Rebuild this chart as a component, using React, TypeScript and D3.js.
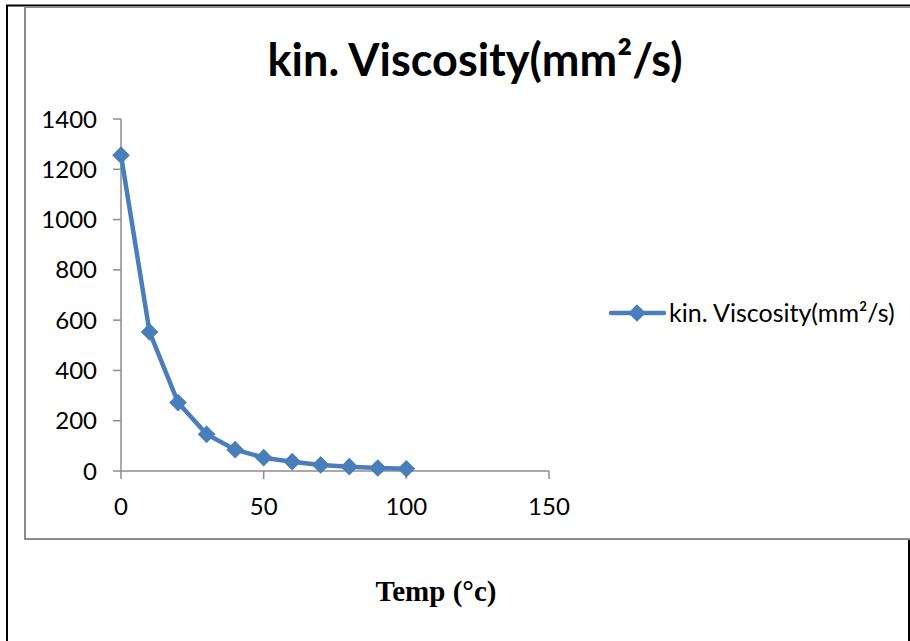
import { useEffect, useRef } from "react";
import * as d3 from "d3";

// chart data
const temps = [0, 10, 20, 30, 40, 50, 60, 70, 80, 90, 100];
const viscosity = [1256, 553, 272, 146, 85, 53, 37, 24, 17, 12, 9];
const xTicks = [0, 50, 100, 150];
const yTicks = [0, 200, 400, 600, 800, 1000, 1200, 1400];
const seriesName = "kin. Viscosity(mm²/s)";
const xTitle = "Temp (°c)";

const W = 910;
const H = 641;
const BLUE = "#4A7EBB";
const FONT = "Lato, 'Open Sans', sans-serif";

const App = () => {
  const svgRef = useRef<SVGSVGElement | null>(null);

  useEffect(() => {
    if (!svgRef.current) return;
    const svg = d3.select(svgRef.current);
    svg.selectAll("*").remove();

    // outer frame (black) and chart area (grey)
    svg
      .append("rect")
      .attr("x", 7)
      .attr("y", 5.5)
      .attr("width", 902)
      .attr("height", 650)
      .attr("fill", "#fff")
      .attr("stroke", "#000")
      .attr("stroke-width", 2);
    svg
      .append("rect")
      .attr("x", 25)
      .attr("y", 7)
      .attr("width", 900)
      .attr("height", 532)
      .attr("fill", "#fff")
      .attr("stroke", "#8c8c8c")
      .attr("stroke-width", 2);

    const x = d3.scaleLinear().domain([0, 150]).range([121, 549]);
    const y = d3.scaleLinear().domain([0, 1400]).range([471, 119]);

    // title
    svg
      .append("text")
      .attr("x", 475)
      .attr("y", 76)
      .attr("text-anchor", "middle")
      .attr("font-family", FONT)
      .attr("font-weight", "bold")
      .attr("font-size", 45)
      .attr("fill", "#000")
      .text(seriesName);

    // y axis
    svg
      .append("line")
      .attr("x1", x(0))
      .attr("x2", x(0))
      .attr("y1", y(1400))
      .attr("y2", y(0))
      .attr("stroke", "#8c8c8c")
      .attr("stroke-width", 1.5);
    yTicks.forEach((t) => {
      svg
        .append("line")
        .attr("x1", x(0) - 8)
        .attr("x2", x(0))
        .attr("y1", y(t))
        .attr("y2", y(t))
        .attr("stroke", "#8c8c8c")
        .attr("stroke-width", 1.5);
      svg
        .append("text")
        .attr("x", 97)
        .attr("y", y(t))
        .attr("dy", "0.36em")
        .attr("text-anchor", "end")
        .attr("font-family", FONT)
        .attr("font-size", 24)
        .attr("fill", "#000")
        .text(t);
    });

    // x axis
    svg
      .append("line")
      .attr("x1", x(0))
      .attr("x2", x(150))
      .attr("y1", y(0))
      .attr("y2", y(0))
      .attr("stroke", "#8c8c8c")
      .attr("stroke-width", 1.5);
    xTicks.forEach((t) => {
      svg
        .append("line")
        .attr("x1", x(t))
        .attr("x2", x(t))
        .attr("y1", y(0))
        .attr("y2", y(0) + 8)
        .attr("stroke", "#8c8c8c")
        .attr("stroke-width", 1.5);
      svg
        .append("text")
        .attr("x", x(t))
        .attr("y", 506)
        .attr("dy", "0.36em")
        .attr("text-anchor", "middle")
        .attr("font-family", FONT)
        .attr("font-size", 24)
        .attr("fill", "#000")
        .text(t);
    });

    // series line
    const pts = temps.map((t, i) => [t, viscosity[i]] as [number, number]);
    const line = d3
      .line<[number, number]>()
      .x((d) => x(d[0]))
      .y((d) => y(d[1]));
    svg
      .append("path")
      .attr("d", line(pts))
      .attr("fill", "none")
      .attr("stroke", BLUE)
      .attr("stroke-width", 4.5)
      .attr("stroke-linejoin", "round");

    const diamond = d3.symbol().type(d3.symbolDiamond2).size(200);
    svg
      .selectAll("path.marker")
      .data(pts)
      .enter()
      .append("path")
      .attr("class", "marker")
      .attr("d", diamond)
      .attr("transform", (d) => `translate(${x(d[0])},${y(d[1])})`)
      .attr("fill", BLUE);

    // legend
    svg
      .append("line")
      .attr("x1", 611)
      .attr("x2", 664)
      .attr("y1", 313)
      .attr("y2", 313)
      .attr("stroke", BLUE)
      .attr("stroke-width", 4.5)
      .attr("stroke-linecap", "round");
    svg
      .append("path")
      .attr("d", diamond)
      .attr("transform", "translate(637,313)")
      .attr("fill", BLUE);
    svg
      .append("text")
      .attr("x", 669)
      .attr("y", 313)
      .attr("dy", "0.36em")
      .attr("font-family", FONT)
      .attr("font-size", 25)
      .attr("fill", "#000")
      .text(seriesName);

    // x axis title, below the chart box
    svg
      .append("text")
      .attr("x", 436)
      .attr("y", 601)
      .attr("text-anchor", "middle")
      .attr("font-family", "'Liberation Serif', 'DejaVu Serif', serif")
      .attr("font-weight", "bold")
      .attr("font-size", 29)
      .attr("fill", "#000")
      .text(xTitle);
  }, []);

  return (
    <div style={{ position: "absolute", left: 0, top: 0 }}>
      <svg ref={svgRef} width={W} height={H} style={{ display: "block" }} />
    </div>
  );
};

export default App;
